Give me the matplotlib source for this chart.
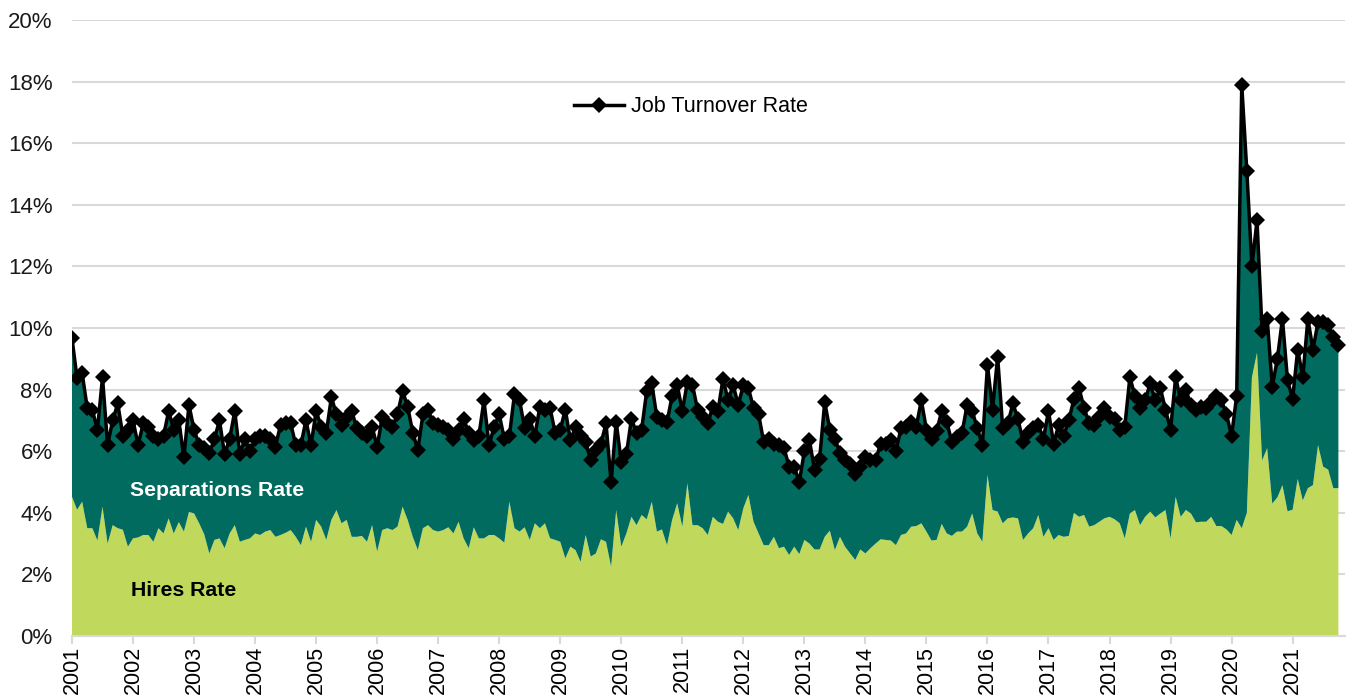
import numpy as np
import matplotlib
matplotlib.use("Agg")
import matplotlib.pyplot as plt
from matplotlib.ticker import FuncFormatter

plt.rcParams['font.family'] = ['Liberation Sans', 'DejaVu Sans']

# ---- Data (monthly, Jan 2001 - Oct 2021), percent ----
years = list(range(2001, 2022))

turnover = {
    2001: [9.66, 8.37, 8.53, 7.40, 7.34, 6.70, 8.40, 6.20, 7.00, 7.55, 6.50, 6.70],
    2002: [7.00, 6.20, 6.90, 6.80, 6.50, 6.40, 6.50, 7.30, 6.70, 7.00, 5.80, 7.50],
    2003: [6.70, 6.20, 6.10, 5.93, 6.40, 7.00, 5.90, 6.40, 7.30, 5.90, 6.40, 6.00],
    2004: [6.40, 6.50, 6.50, 6.40, 6.15, 6.85, 6.90, 6.90, 6.20, 6.20, 7.00, 6.20],
    2005: [7.30, 6.80, 6.60, 7.75, 7.20, 6.85, 7.10, 7.30, 6.75, 6.60, 6.50, 6.80],
    2006: [6.15, 7.10, 6.90, 6.80, 7.20, 7.95, 7.45, 6.60, 6.05, 7.20, 7.35, 6.90],
    2007: [6.85, 6.80, 6.70, 6.40, 6.70, 7.05, 6.60, 6.35, 6.50, 7.65, 6.20, 6.80],
    2008: [7.20, 6.40, 6.50, 7.85, 7.65, 6.75, 7.05, 6.50, 7.45, 7.35, 7.40, 6.60],
    2009: [6.70, 7.35, 6.35, 6.80, 6.50, 6.30, 5.70, 6.05, 6.25, 6.90, 5.00, 6.95],
    2010: [5.65, 5.90, 7.05, 6.60, 6.70, 7.95, 8.20, 7.10, 7.00, 6.95, 7.80, 8.15],
    2011: [7.30, 8.25, 8.15, 7.35, 7.10, 6.90, 7.45, 7.30, 8.35, 7.65, 8.15, 7.50],
    2012: [8.15, 8.05, 7.40, 7.20, 6.30, 6.40, 6.25, 6.20, 6.10, 5.50, 5.50, 5.00],
    2013: [6.00, 6.35, 5.40, 5.75, 7.60, 6.70, 6.40, 5.95, 5.70, 5.60, 5.25, 5.50],
    2014: [5.80, 5.70, 5.70, 6.25, 6.25, 6.35, 6.00, 6.75, 6.80, 6.95, 6.80, 7.65],
    2015: [6.70, 6.40, 6.65, 7.30, 6.95, 6.30, 6.45, 6.60, 7.50, 7.30, 6.75, 6.20],
    2016: [8.80, 7.35, 9.07, 6.75, 6.90, 7.55, 7.05, 6.30, 6.60, 6.75, 6.85, 6.40],
    2017: [7.30, 6.25, 6.85, 6.50, 7.00, 7.70, 8.05, 7.40, 6.90, 6.85, 7.10, 7.40],
    2018: [7.10, 7.05, 6.70, 6.80, 8.40, 7.80, 7.40, 7.65, 8.20, 7.65, 8.05, 7.35],
    2019: [6.70, 8.40, 7.65, 8.00, 7.50, 7.35, 7.45, 7.40, 7.60, 7.80, 7.65, 7.20],
    2020: [6.50, 7.80, 17.90, 15.10, 12.00, 13.50, 9.90, 10.30, 8.10, 9.00, 10.30, 8.30],
    2021: [7.70, 9.30, 8.40, 10.30, 9.30, 10.20, 10.20, 10.10, 9.70, 9.45],
}

hires = {
    2001: [4.52, 4.10, 4.36, 3.50, 3.50, 3.10, 4.20, 3.00, 3.60, 3.50, 3.45, 2.90],
    2002: [3.17, 3.20, 3.28, 3.28, 3.06, 3.50, 3.33, 3.82, 3.33, 3.70, 3.39, 4.03],
    2003: [3.98, 3.66, 3.30, 2.68, 3.12, 3.17, 2.85, 3.33, 3.60, 3.06, 3.12, 3.17],
    2004: [3.33, 3.28, 3.39, 3.44, 3.22, 3.28, 3.35, 3.44, 3.22, 2.95, 3.55, 3.06],
    2005: [3.77, 3.55, 3.12, 3.77, 4.09, 3.66, 3.77, 3.22, 3.22, 3.25, 3.06, 3.60],
    2006: [2.74, 3.44, 3.50, 3.44, 3.55, 4.20, 3.77, 3.22, 2.79, 3.50, 3.60, 3.44],
    2007: [3.39, 3.44, 3.53, 3.33, 3.71, 3.17, 2.85, 3.53, 3.17, 3.17, 3.28, 3.28],
    2008: [3.17, 3.03, 4.36, 3.50, 3.39, 3.53, 3.12, 3.66, 3.50, 3.66, 3.17, 3.12],
    2009: [3.06, 2.52, 2.90, 2.79, 2.41, 3.28, 2.58, 2.68, 3.14, 3.06, 2.25, 4.09],
    2010: [2.90, 3.33, 3.87, 3.60, 3.93, 3.79, 4.36, 3.39, 3.46, 2.95, 3.77, 4.31],
    2011: [3.55, 4.96, 3.60, 3.60, 3.50, 3.28, 3.87, 3.71, 3.64, 4.04, 3.82, 3.44],
    2012: [4.15, 4.58, 3.71, 3.33, 2.95, 2.95, 3.22, 2.85, 2.90, 2.63, 2.90, 2.66],
    2013: [3.12, 3.00, 2.81, 2.81, 3.22, 3.42, 2.79, 3.22, 2.90, 2.68, 2.47, 2.81],
    2014: [2.68, 2.85, 3.00, 3.14, 3.12, 3.10, 2.95, 3.28, 3.33, 3.55, 3.57, 3.66],
    2015: [3.39, 3.10, 3.12, 3.64, 3.33, 3.25, 3.39, 3.39, 3.55, 3.98, 3.33, 3.06],
    2016: [5.23, 4.09, 4.04, 3.66, 3.82, 3.85, 3.82, 3.12, 3.33, 3.50, 3.93, 3.22],
    2017: [3.50, 3.12, 3.28, 3.22, 3.25, 4.00, 3.87, 3.93, 3.55, 3.60, 3.71, 3.82],
    2018: [3.87, 3.79, 3.66, 3.17, 3.98, 4.09, 3.60, 3.87, 4.04, 3.85, 3.98, 4.09],
    2019: [3.17, 4.52, 3.87, 4.09, 3.98, 3.69, 3.71, 3.71, 3.87, 3.57, 3.57, 3.46],
    2020: [3.28, 3.77, 3.50, 4.00, 8.40, 9.20, 5.70, 6.10, 4.30, 4.50, 4.90, 4.05],
    2021: [4.10, 5.10, 4.40, 4.80, 4.90, 6.20, 5.50, 5.40, 4.80, 4.80],
}

turnover_rate = np.array([v for y in years for v in turnover[y]])
hires_rate = np.array([v for y in years for v in hires[y]])
separations_rate = turnover_rate - hires_rate
n = len(turnover_rate)
x = np.array([2001 + i / 12.0 for i in range(n)])

# ---- Figure ----
W, H = 1355, 700
fig = plt.figure(figsize=(W / 100, H / 100), dpi=100)
ax = fig.add_axes([72 / W, 1 - 636 / H, (1345 - 72) / W, (636 - 20) / H])

hire_col = '#C0D85B'
sep_col = '#006B5E'
ax.stackplot(x, hires_rate, separations_rate, colors=[hire_col, sep_col],
             linewidth=0, zorder=2)
ax.plot(x, turnover_rate, color='black', lw=2.5, marker='D', markersize=8,
        markeredgewidth=0, label='Job Turnover Rate', zorder=4)

ax.set_xlim(2001, 2001 + (n + 0.3) / 12.0)
ax.set_ylim(0, 20)
ax.set_yticks(np.arange(0, 21, 2))
ax.yaxis.set_major_formatter(FuncFormatter(lambda v, p: f"{v:.0f}%"))
ax.set_xticks(years)
ax.set_xticklabels([str(y) for y in years], rotation=90)

ax.grid(axis='y', color='#D9D9D9', lw=1.5, zorder=0)
ax.set_axisbelow(True)
for s in ['top', 'right', 'left']:
    ax.spines[s].set_visible(False)
ax.spines['bottom'].set_color('#D9D9D9')
ax.spines['bottom'].set_linewidth(1.5)
ax.spines['bottom'].set_zorder(5)
ax.tick_params(axis='y', length=0, pad=14, labelsize=16, labelcolor='#1a1a1a')
ax.tick_params(axis='x', length=6, width=1.5, color='#D9D9D9', pad=1,
               labelsize=15.5, labelcolor='black')

ax.text(2001.95, 4.74, 'Separations Rate', color='white', fontsize=15.3,
        fontweight='bold', ha='left', va='center', zorder=6)
ax.text(2001.97, 1.49, 'Hires Rate', color='black', fontsize=15.3,
        fontweight='bold', ha='left', va='center', zorder=6)

leg = ax.legend(loc='center', bbox_to_anchor=(691 / W, 1 - 107 / H),
                bbox_transform=fig.transFigure, frameon=False, fontsize=15.5,
                handlelength=2.3, handletextpad=0.35)

fig.savefig('out.png', dpi=100)
